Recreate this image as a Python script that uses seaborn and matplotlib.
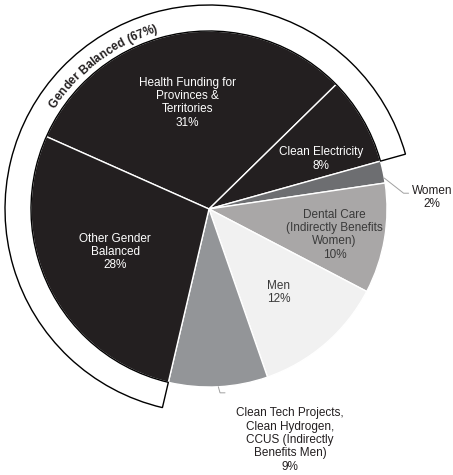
import numpy as np
import matplotlib.pyplot as plt
import seaborn as sns
from matplotlib.font_manager import FontProperties
from matplotlib.textpath import TextToPath

sns.set_theme(style="white")
plt.rcParams['font.family'] = ['Liberation Sans', 'DejaVu Sans']

# ---------------------- data ----------------------
categories = [
    "Health Funding for\nProvinces &\nTerritories",
    "Clean Electricity",
    "Women",
    "Dental Care\n(Indirectly Benefits\nWomen)",
    "Men",
    "Clean Tech Projects,\nClean Hydrogen,\nCCUS (Indirectly\nBenefits Men)",
    "Other Gender\nBalanced",
]
shares = [31, 8, 2, 10, 12, 9, 28]
gender_balanced = [True, True, False, False, False, False, True]
ring_title = "Gender Balanced"

# ---------------------- style ----------------------
colors = ["#231f20", "#231f20", "#6d6e71", "#a9a7a7", "#f1f1f1", "#939598", "#231f20"]
text_colors = ["white", "white", "#231f20", "#3a3a3a", "#3a3a3a", "#231f20", "white"]
# label placement: (radius, angle nudge from wedge middle)
label_pos = [(0.61, 1.4), (0.69, -6.0), (1.255, -9.0), (0.72, -2.0),
             (0.61, -1.0), (1.375, 16.3), (0.58, -1.8)]
outside = [False, False, True, False, False, True, False]

START = 156
SCALE = 178.0  # px per data unit
CX, CY = 209, 209  # pie centre in px (from top-left)
W, H = 453, 475
RING_W = 0.146

fig = plt.figure(figsize=(W / 100, H / 100), dpi=100)
ax = fig.add_axes([0, 0, 1, 1])

wedges, _ = ax.pie(shares, colors=colors, startangle=START, counterclock=False,
                   radius=1.0, wedgeprops=dict(edgecolor="white", linewidth=1.0))

# outer ring for the gender balanced group
gb_total = sum(s for s, g in zip(shares, gender_balanced) if g)
first_run = 0
for s, g in zip(shares, gender_balanced):
    if not g:
        break
    first_run += s
ring_start = START - 3.6 * first_run
ring, _ = ax.pie([gb_total, 100 - gb_total], colors=["white", "white"], startangle=ring_start,
                 counterclock=True, radius=1.0 + RING_W,
                 wedgeprops=dict(width=RING_W, edgecolor="black", linewidth=1.0))
ring[1].set_visible(False)

# labels
for w, name, val, (r, nudge), tc, out in zip(wedges, categories, shares, label_pos, text_colors, outside):
    mid = (w.theta1 + w.theta2) / 2 + nudge
    x, y = r * np.cos(np.radians(mid)), r * np.sin(np.radians(mid))
    ax.text(x, y, f"{name}\n{val}%", ha="center", va="center", color=tc,
            fontsize=8.5, linespacing=1.15)
    if out:
        a0 = np.radians((w.theta1 + w.theta2) / 2 - (2 if val == 2 else 0))
        sx, sy = 1.0 * np.cos(a0), 1.0 * np.sin(a0)
        if y > 0:
            ex, ey = x - 0.16, y + 0.023
        else:
            ex, ey = 0.062, y + 0.265
        ax.plot([sx, ex, ex + 0.028], [sy, ey, ey], color="#a0a0a0", lw=0.7)

# curved title along the ring
title = f"{ring_title} ({gb_total}%)"
fp = FontProperties(family="Liberation Sans", weight="bold", size=8.5)
ttp = TextToPath()


def width_pt(s):
    return ttp.get_text_width_height_descent(s, fp, ismath=False)[0]


to_data = 100 / 72 / SCALE
base = width_pt("H")
pens = [(width_pt(title[:i] + "H") - base) * to_data for i in range(len(title) + 1)]
r_text = 1.035
total = pens[-1]
centre_ang = 126.5
a_start = centre_ang + np.degrees(total / r_text) / 2
for i, ch in enumerate(title):
    mid = (pens[i] + pens[i + 1]) / 2
    a = a_start - np.degrees(mid / r_text)
    ax.text(r_text * np.cos(np.radians(a)), r_text * np.sin(np.radians(a)), ch,
            fontproperties=fp, color="#231f20", ha="center", va="baseline",
            rotation=a - 90, rotation_mode="anchor")

ax.set_xlim(-CX / SCALE, (W - CX) / SCALE)
ax.set_ylim(-(H - CY) / SCALE, CY / SCALE)
ax.set_aspect("equal")
ax.axis("off")

fig.savefig("out.png", dpi=100)
